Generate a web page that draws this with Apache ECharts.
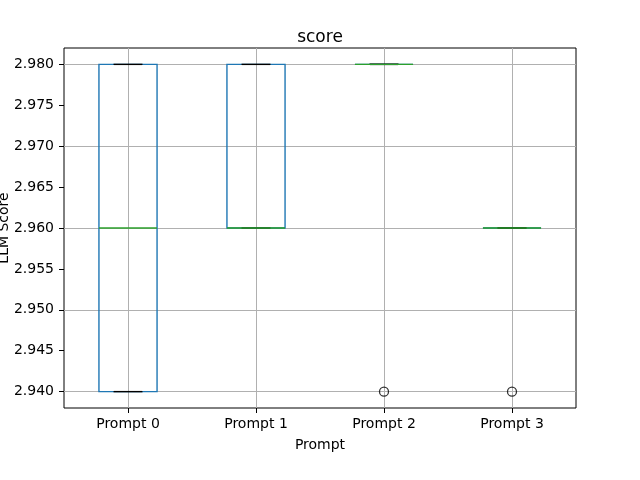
<!DOCTYPE html>
<html>
<head>
<meta charset="utf-8">
<script src="https://cdn.jsdelivr.net/npm/echarts@6/dist/echarts.min.js"></script>
<style>
  html, body { margin: 0; padding: 0; background: #fff; }
  #chart { width: 640px; height: 480px; }
</style>
</head>
<body>
<div id="chart"></div>
<script>
// box stats per prompt: [min, q1, median, q3, max]
const prompts = ['Prompt 0', 'Prompt 1', 'Prompt 2', 'Prompt 3'];
const boxStats = [
    [2.94, 2.94, 2.96, 2.98, 2.98],
    [2.96, 2.96, 2.96, 2.98, 2.98],
    [2.98, 2.98, 2.98, 2.98, 2.98],
    [2.96, 2.96, 2.96, 2.96, 2.96]
];
// outliers: [prompt index, value]
const fliers = [[2, 2.94], [3, 2.94]];
const yTicks = [2.940, 2.945, 2.950, 2.955, 2.960, 2.965, 2.970, 2.975, 2.980];

const chart = echarts.init(document.getElementById('chart'));
const font = 'DejaVu Sans';

function renderBox(params, api) {
    const x = api.value(0);
    const pMin = api.coord([x, api.value(1)]);
    const pQ1 = api.coord([x, api.value(2)]);
    const pMed = api.coord([x, api.value(3)]);
    const pQ3 = api.coord([x, api.value(4)]);
    const pMax = api.coord([x, api.value(5)]);
    const band = api.size([1, 0])[0];
    const half = band * 0.227;
    const capHalf = band * 0.113;
    const cx = pMed[0];
    const blue = { stroke: '#1f77b4', lineWidth: 1.4, fill: null };
    return {
        type: 'group',
        children: [
            { type: 'rect', shape: { x: cx - half, y: pQ3[1], width: half * 2, height: pQ1[1] - pQ3[1] }, style: blue },
            { type: 'line', shape: { x1: cx, y1: pQ3[1], x2: cx, y2: pMax[1] }, style: blue },
            { type: 'line', shape: { x1: cx, y1: pQ1[1], x2: cx, y2: pMin[1] }, style: blue },
            { type: 'line', shape: { x1: cx - capHalf, y1: pMax[1], x2: cx + capHalf, y2: pMax[1] }, style: { stroke: '#000', lineWidth: 1.4 } },
            { type: 'line', shape: { x1: cx - capHalf, y1: pMin[1], x2: cx + capHalf, y2: pMin[1] }, style: { stroke: '#000', lineWidth: 1.4 } },
            { type: 'line', shape: { x1: cx - half, y1: pMed[1], x2: cx + half, y2: pMed[1] }, style: { stroke: '#2ca02c', lineWidth: 1.4 } }
        ]
    };
}

const gridLine = { color: '#b0b0b0', width: 1, type: 'solid' };

chart.setOption({
    animation: false,
    textStyle: { fontFamily: font },
    title: {
        text: 'score',
        left: 'center',
        top: 24,
        textStyle: { fontFamily: font, fontWeight: 'normal', fontSize: 17, color: '#000' }
    },
    grid: {
        left: 64, right: 64, top: 48, bottom: 72,
        outerBoundsMode: 'none',
        containLabel: false,
        show: true, borderColor: '#000', borderWidth: 1, backgroundColor: 'transparent'
    },
    xAxis: {
        type: 'category',
        data: prompts,
        boundaryGap: true,
        name: 'Prompt',
        nameLocation: 'middle',
        nameGap: 30,
        nameMoveOverlap: false,
        nameTextStyle: { fontFamily: font, fontSize: 14, color: '#000' },
        axisLine: { show: false },
        axisTick: { show: true, alignWithLabel: true, length: 5, lineStyle: { color: '#000' } },
        axisLabel: { color: '#000', fontSize: 14, margin: 9 },
        splitLine: { show: false }
    },
    yAxis: {
        type: 'value',
        min: 2.938,
        max: 2.982,
        name: 'LLM Score',
        nameLocation: 'middle',
        nameRotate: 90,
        nameGap: 53,
        nameMoveOverlap: false,
        nameTextStyle: { fontFamily: font, fontSize: 14, color: '#000' },
        axisLine: { show: false },
        axisTick: { show: true, length: 5, customValues: yTicks, lineStyle: { color: '#000' } },
        axisLabel: { color: '#000', fontSize: 14, margin: 10, customValues: yTicks, formatter: v => v.toFixed(3) },
        splitLine: { show: false }
    },
    series: [
        {
            type: 'scatter',
            data: [],
            z: 0,
            silent: true,
            markLine: {
                z: 0,
                symbol: 'none',
                silent: true,
                animation: false,
                label: { show: false },
                emphasis: { disabled: true },
                lineStyle: gridLine,
                data: yTicks.map(v => ({ yAxis: v })).concat(prompts.map(p => ({ xAxis: p })))
            }
        },
        {
            type: 'custom',
            renderItem: renderBox,
            z: 10,
            encode: { x: 0, y: [1, 2, 3, 4, 5] },
            data: boxStats.map((s, i) => [i].concat(s))
        },
        {
            type: 'scatter',
            z: 11,
            symbol: 'circle',
            symbolSize: 9,
            itemStyle: { color: 'transparent', borderColor: '#000', borderWidth: 1.3 },
            data: fliers
        }
    ]
});
</script>
</body>
</html>
